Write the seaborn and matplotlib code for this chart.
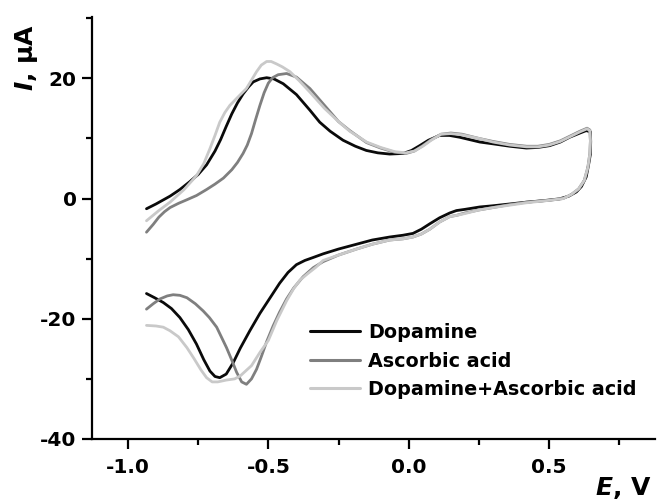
import numpy as np
import pandas as pd
import matplotlib
matplotlib.use("Agg")
import matplotlib.pyplot as plt
from matplotlib.ticker import MultipleLocator
import seaborn as sns

# Cyclic voltammograms: potential E (V) and current I (uA), forward then reverse sweep
dopamine_E = [-0.934, -0.90, -0.85, -0.815, -0.78, -0.75, -0.72, -0.69, -0.67, -0.65,
              -0.63, -0.61, -0.59, -0.57, -0.554, -0.53, -0.506, -0.48, -0.447, -0.40,
              -0.352, -0.317, -0.28, -0.234, -0.19, -0.151, -0.11, -0.068, -0.02, 0.01,
              0.039, 0.07, 0.11, 0.145, 0.181, 0.253, 0.30, 0.36, 0.419, 0.46,
              0.502, 0.54, 0.573, 0.61, 0.632, 0.647,
              0.648, 0.647, 0.64, 0.632, 0.615, 0.597, 0.57, 0.537, 0.48, 0.419,
              0.36, 0.30, 0.253, 0.20, 0.17, 0.146, 0.11, 0.075, 0.045, 0.015,
              -0.02, -0.068, -0.13, -0.186, -0.25, -0.305, -0.34, -0.37, -0.40, -0.43,
              -0.46, -0.495, -0.53, -0.566, -0.60, -0.625, -0.65, -0.673, -0.69, -0.708,
              -0.73, -0.756, -0.785, -0.815, -0.845, -0.874, -0.905, -0.934]
dopamine_I = [-1.7, -0.9, 0.4, 1.5, 2.8, 4.0, 5.6, 7.9, 9.8, 12.0,
              14.1, 15.9, 17.4, 18.6, 19.4, 19.9, 20.1, 19.9, 19.1, 17.3,
              14.7, 12.7, 11.2, 9.7, 8.7, 8.0, 7.6, 7.4, 7.5, 8.0,
              8.8, 9.7, 10.5, 10.5, 10.2, 9.4, 9.1, 8.7, 8.4, 8.5,
              8.8, 9.4, 10.2, 10.9, 11.3, 11.1,
              9.5, 7.4, 5.5, 3.6, 2.0, 1.1, 0.4, -0.05, -0.35, -0.6,
              -0.9, -1.2, -1.4, -1.8, -2.0, -2.4, -3.2, -4.2, -5.1, -5.8,
              -6.1, -6.4, -6.9, -7.6, -8.4, -9.2, -9.8, -10.3, -11.0, -12.3,
              -14.1, -16.6, -19.1, -22.0, -24.9, -27.3, -29.2, -29.8, -29.6, -28.7,
              -26.8, -24.2, -21.8, -19.8, -18.3, -17.3, -16.5, -15.8]

ascorbic_E = [-0.934, -0.91, -0.89, -0.87, -0.85, -0.82, -0.79, -0.756, -0.72, -0.69,
              -0.66, -0.63, -0.61, -0.59, -0.575, -0.56, -0.545, -0.53, -0.515, -0.50,
              -0.485, -0.465, -0.435, -0.40, -0.352, -0.30, -0.25, -0.21, -0.15, -0.10,
              -0.05, -0.01, 0.02, 0.05, 0.08, 0.115, 0.15, 0.19, 0.25, 0.30,
              0.36, 0.42, 0.46, 0.50, 0.54, 0.575, 0.61, 0.635, 0.645,
              0.647, 0.645, 0.638, 0.625, 0.605, 0.58, 0.55, 0.50, 0.42, 0.36,
              0.30, 0.25, 0.20, 0.17, 0.146, 0.11, 0.075, 0.045, 0.015, -0.02,
              -0.068, -0.13, -0.186, -0.25, -0.305, -0.34, -0.376, -0.41, -0.435, -0.46,
              -0.483, -0.506, -0.525, -0.542, -0.56, -0.578, -0.595, -0.613, -0.63, -0.649,
              -0.684, -0.71, -0.732, -0.76, -0.79, -0.815, -0.839, -0.86, -0.886, -0.91,
              -0.934]
ascorbic_I = [-5.6, -4.3, -3.1, -2.2, -1.5, -0.8, -0.2, 0.5, 1.5, 2.4,
              3.4, 4.8, 6.0, 7.5, 8.9, 10.8, 13.2, 15.5, 17.6, 19.2,
              20.1, 20.6, 20.8, 20.2, 18.3, 15.5, 12.8, 11.3, 9.3, 8.4,
              7.7, 7.5, 7.9, 8.8, 9.8, 10.7, 10.9, 10.7, 10.0, 9.5,
              9.0, 8.7, 8.7, 9.0, 9.6, 10.4, 11.2, 11.7, 11.4,
              9.6, 7.5, 5.2, 3.0, 1.6, 0.7, 0.0, -0.3, -0.6, -1.0,
              -1.5, -1.9, -2.4, -2.8, -3.0, -3.9, -5.1, -5.9, -6.4, -6.7,
              -6.9, -7.6, -8.4, -9.4, -10.5, -11.5, -13.0, -14.9, -16.7, -18.9,
              -21.2, -23.8, -26.3, -28.4, -30.0, -30.9, -30.5, -28.9, -26.9, -24.8,
              -21.4, -19.8, -18.7, -17.5, -16.5, -16.1, -16.0, -16.2, -16.7, -17.5,
              -18.4]

mixture_E = [-0.934, -0.89, -0.85, -0.80, -0.756, -0.73, -0.708, -0.69, -0.673, -0.655,
             -0.637, -0.61, -0.578, -0.56, -0.542, -0.525, -0.506, -0.49, -0.471, -0.45,
             -0.423, -0.39, -0.352, -0.30, -0.25, -0.21, -0.15, -0.10, -0.05, -0.01,
             0.02, 0.05, 0.08, 0.115, 0.15, 0.19, 0.25, 0.30, 0.36, 0.42,
             0.46, 0.50, 0.54, 0.575, 0.61, 0.635, 0.645,
             0.647, 0.645, 0.638, 0.625, 0.605, 0.58, 0.55, 0.50, 0.42, 0.36,
             0.30, 0.25, 0.20, 0.17, 0.146, 0.11, 0.075, 0.045, 0.015, -0.02,
             -0.068, -0.13, -0.186, -0.25, -0.305, -0.33, -0.36, -0.388, -0.41, -0.435,
             -0.47, -0.50, -0.53, -0.56, -0.60, -0.62, -0.65, -0.68, -0.70, -0.72,
             -0.74, -0.765, -0.79, -0.82, -0.85, -0.874, -0.90, -0.934]
mixture_I = [-3.7, -2.0, -0.6, 1.5, 3.8, 5.8, 8.3, 10.5, 12.7, 14.3,
             15.5, 16.8, 18.3, 19.7, 21.1, 22.2, 22.8, 22.8, 22.4, 21.9,
             21.1, 19.6, 17.7, 15.0, 12.8, 11.2, 9.4, 8.5, 7.8, 7.6,
             7.9, 8.7, 9.7, 10.7, 10.8, 10.6, 10.0, 9.4, 8.9, 8.6,
             8.6, 8.9, 9.5, 10.3, 11.1, 11.6, 11.3,
             9.6, 7.5, 5.2, 3.0, 1.6, 0.7, 0.0, -0.3, -0.7, -1.1,
             -1.5, -1.9, -2.5, -2.8, -3.0, -3.9, -5.1, -5.9, -6.4, -6.7,
             -6.9, -7.6, -8.4, -9.4, -10.3, -11.4, -12.5, -13.6, -15.0, -17.0,
             -20.3, -23.6, -25.6, -27.8, -29.5, -30.0, -30.2, -30.5, -30.5, -29.8,
             -28.5, -26.6, -24.8, -23.0, -22.0, -21.4, -21.2, -21.1]

labels = ["Dopamine", "Ascorbic acid", "Dopamine+Ascorbic acid"]
colors = ["#0a0a0a", "#7f7f7f", "#c9c9c9"]
x_ticks = [-1.0, -0.5, 0.0, 0.5]
y_ticks = [-40, -20, 0, 20]

frames = []
for name, E, I in zip(labels, [dopamine_E, ascorbic_E, mixture_E],
                      [dopamine_I, ascorbic_I, mixture_I]):
    frames.append(pd.DataFrame({"E": E, "I": I, "series": name,
                                "step": np.arange(len(E))}))
df = pd.concat(frames, ignore_index=True)

sns.set_style("ticks")
plt.rcParams["font.family"] = ["DejaVu Sans"]
plt.rcParams["font.weight"] = "bold"
plt.rcParams["text.color"] = "black"
plt.rcParams["xtick.color"] = "black"
plt.rcParams["ytick.color"] = "black"
plt.rcParams["mathtext.fontset"] = "custom"
plt.rcParams["mathtext.it"] = "DejaVu Sans:italic:bold"
plt.rcParams["mathtext.rm"] = "DejaVu Sans:bold"
plt.rcParams["mathtext.bf"] = "DejaVu Sans:bold"

fig = plt.figure(figsize=(6.61, 5.0), dpi=100)
ax = fig.add_axes([92 / 661, 1 - 439 / 500, 563 / 661, 422 / 500])

sns.lineplot(data=df, x="E", y="I", hue="series", hue_order=labels,
             palette=dict(zip(labels, colors)), sort=False, estimator=None,
             linewidth=2.0, ax=ax, legend=False)

ax.set_xlim(-1.128, 0.877)
ax.set_ylim(-40, 30.2)
ax.set_xticks(x_ticks)
ax.set_yticks(y_ticks)
ax.set_xticklabels([f"{v:.1f}" for v in x_ticks])
ax.set_yticklabels([f"{v:d}" for v in y_ticks])
ax.xaxis.set_minor_locator(MultipleLocator(0.25))
ax.yaxis.set_minor_locator(MultipleLocator(10))
ax.tick_params(which="major", direction="out", length=7, width=1.6,
               labelsize=14.5, color="black", labelcolor="black")
ax.tick_params(which="minor", direction="out", length=4, width=1.6, color="black")
ax.tick_params(axis="x", which="major", pad=7)
ax.tick_params(axis="y", which="major", pad=4)
for lbl in ax.get_xticklabels() + ax.get_yticklabels():
    lbl.set_fontweight("bold")

sns.despine(ax=ax)
for side in ("left", "bottom"):
    ax.spines[side].set_linewidth(1.6)
    ax.spines[side].set_color("black")
ax.set_xlabel("")
ax.set_ylabel("")

fig.text(27 / 661, 1 - 57 / 500, "$I$, μA", rotation=90, ha="center", va="center",
         fontsize=18, fontweight="bold", color="black")
fig.text(652 / 661, 1 - 488 / 500, "$E$, V", ha="right", va="center",
         fontsize=18, fontweight="bold", color="black")

handles = [plt.Line2D([], [], color=c, linewidth=2.2) for c in colors]
leg = ax.legend(handles, labels, loc="upper left", frameon=False,
                bbox_to_anchor=(310 / 661, 1 - 323 / 500), bbox_transform=fig.transFigure,
                borderpad=0, borderaxespad=0, handlelength=2.6, handletextpad=0.45,
                labelspacing=0.5, prop={"size": 13.8, "weight": "bold"})
for t in leg.get_texts():
    t.set_color("black")

fig.savefig("out.png", dpi=100)
